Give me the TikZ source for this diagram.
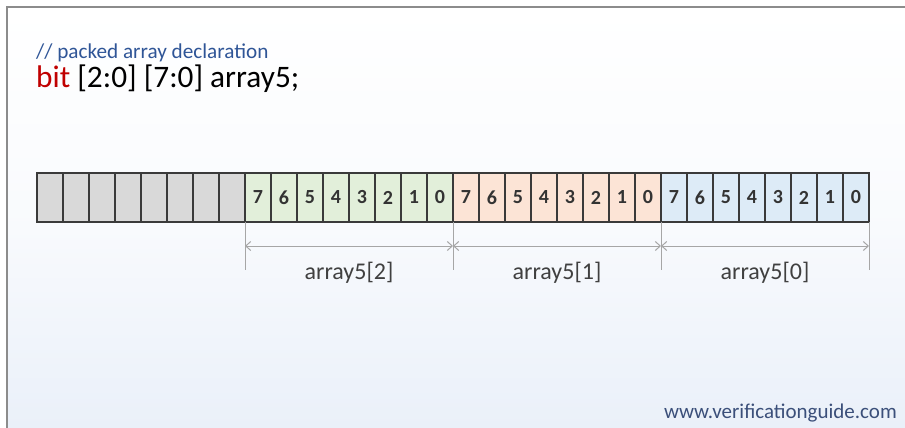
\documentclass[tikz,border=0pt]{standalone}
\usepackage{fontspec}
\setmainfont{Carlito}
\usetikzlibrary{arrows.meta,calc}
\definecolor{frameline}{HTML}{8C8C8C}
\definecolor{cellline}{HTML}{3A3A3A}
\definecolor{greycell}{HTML}{D9D9D9}
\definecolor{greencell}{HTML}{E2EFDA}
\definecolor{orangecell}{HTML}{FCE4D6}
\definecolor{bluecell}{HTML}{DDEBF7}
\definecolor{dimline}{HTML}{A6A6A6}
\definecolor{commentblue}{HTML}{2F5597}
\definecolor{keyred}{HTML}{C00000}
\definecolor{bgbottom}{HTML}{EAF0F9}
\definecolor{urlblue}{HTML}{3B4F7A}
\tikzset{
  bitcell/.style={draw=cellline, line width=1.2pt, minimum width=26pt, minimum height=49pt,
    inner sep=0pt, outer sep=0pt, anchor=north west, font=\fontsize{20}{24}\selectfont\bfseries, text=black!80},
  extline/.style={draw=dimline, line width=1pt},
  dimarrow/.style={draw=dimline, line width=1pt, {Straight Barb[length=5pt,width=9pt]}-{Straight Barb[length=5pt,width=9pt]}},
  dimlabel/.style={font=\fontsize{24}{28}\selectfont, text=black!75}
}
\begin{document}
\begin{tikzpicture}[x=1pt,y=-1pt]
  \useasboundingbox (0,0) rectangle (905,428);
  % panel background and frame
  \fill[top color=white, bottom color=bgbottom, middle color=white!70!bgbottom] (7,7) rectangle (905,428);
  \fill[white] (0,0) rectangle (905,6);
  \draw[frameline, line width=2pt] (7,428) -- (7,7) -- (905,7);

  % declaration text
  \node[anchor=base west, inner sep=0pt, text=commentblue, font=\fontsize{21.2}{25}\selectfont] (cmt) at (36,59) {// packed array declaration};
  \node[anchor=base west, inner sep=0pt, font=\fontsize{31.3}{36}\selectfont] (decl) at (36,88) {\textcolor{keyred}{bit} [2:0] [7:0] array5;};

  % unused grey bits
  \foreach \i in {0,...,7}
    \node[bitcell, fill=greycell] (c\i) at ({37+26*\i},173) {};
  % array5[2], array5[1], array5[0]
  \foreach \i/\b in {8/7,9/6,10/5,11/4,12/3,13/2,14/1,15/0}
    \node[bitcell, fill=greencell] (c\i) at ({37+26*\i},173) {\b};
  \foreach \i/\b in {16/7,17/6,18/5,19/4,20/3,21/2,22/1,23/0}
    \node[bitcell, fill=orangecell] (c\i) at ({37+26*\i},173) {\b};
  \foreach \i/\b in {24/7,25/6,26/5,27/4,28/3,29/2,30/1,31/0}
    \node[bitcell, fill=bluecell] (c\i) at ({37+26*\i},173) {\b};

  % extension lines below the word boundaries
  \coordinate (e0) at ($(c8.south west)+(0,48)$);
  \coordinate (e1) at ($(c16.south west)+(0,48)$);
  \coordinate (e2) at ($(c24.south west)+(0,48)$);
  \coordinate (e3) at ($(c31.south east)+(0,48)$);
  \draw[extline] (c8.south west) -- (e0);
  \draw[extline] (c16.south west) -- (e1);
  \draw[extline] (c24.south west) -- (e2);
  \draw[extline] (c31.south east) -- (e3);

  % dimension arrows
  \coordinate (d0) at ($(c8.south west)+(0,24)$);
  \coordinate (d1) at ($(c16.south west)+(0,24)$);
  \coordinate (d2) at ($(c24.south west)+(0,24)$);
  \coordinate (d3) at ($(c31.south east)+(0,24)$);
  \draw[dimarrow] (d0) -- (d1);
  \draw[dimarrow] (d1) -- (d2);
  \draw[dimarrow] (d2) -- (d3);

  \node[dimlabel] (l2) at ($(d0)!0.5!(d1)+(0,27)$) {array5[2]};
  \node[dimlabel] (l1) at ($(d1)!0.5!(d2)+(0,27)$) {array5[1]};
  \node[dimlabel] (l0) at ($(d2)!0.5!(d3)+(0,27)$) {array5[0]};

  % site address
  \node[anchor=base east, inner sep=0pt, text=urlblue, font=\fontsize{21}{25}\selectfont] (url) at (897,418) {www.verificationguide.com};
\end{tikzpicture}
\end{document}
